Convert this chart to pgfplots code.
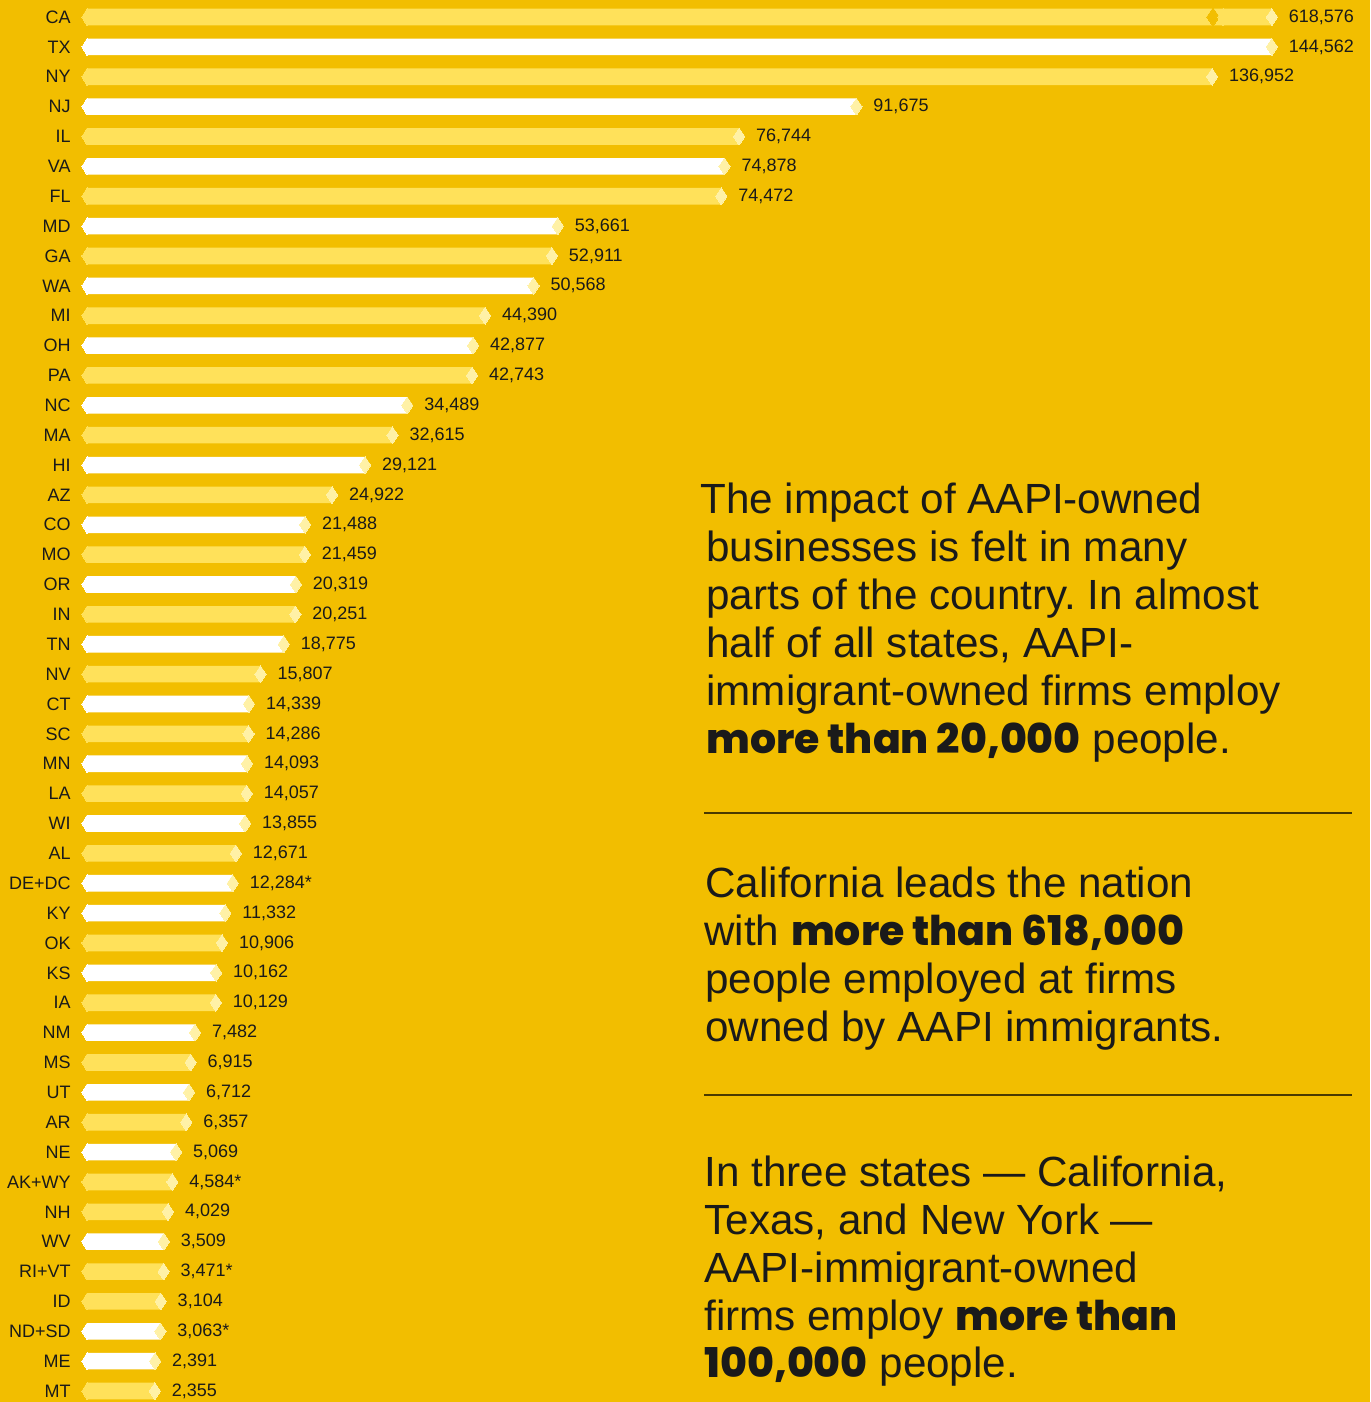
\documentclass[border=0pt]{standalone}
\usepackage{fontspec}
\setmainfont{Liberation Sans}
\newfontfamily\heavy{Poppins}[BoldFont={Poppins ExtraBold}]
\usepackage{pgfplots}
\usepackage{pgfplotstable}
\pgfplotsset{compat=1.18}
\definecolor{bg}{HTML}{F2BE00}
\definecolor{barY}{HTML}{FFE15A}
\definecolor{barW}{HTML}{FFFFFF}
\definecolor{tipc}{HTML}{FFF1A6}
\definecolor{txt}{HTML}{1A1A1A}
\definecolor{rulec}{HTML}{4A3A00}

% yellow rows: i = row index (0 = top), w = plotted length, lab = printed value
\pgfplotstableread{
i w lab
0 144562 618,576
2 136952 136,952
4 76744 76,744
6 74472 74,472
8 52911 52,911
10 44390 44,390
12 42743 42,743
14 32615 32,615
16 24922 24,922
18 21459 21,459
20 20251 20,251
22 15807 15,807
24 14286 14,286
26 14057 14,057
28 12671 12,671
31 10906 10,906
33 10129 10,129
35 6915 6,915
37 6357 6,357
39 4584 4,584*
40 4029 4,029
42 3471 3,471*
43 3104 3,104
46 2355 2,355
}\tY
% white rows
\pgfplotstableread{
i w lab
1 144562 144,562
3 91675 91,675
5 74878 74,878
7 53661 53,661
9 50568 50,568
11 42877 42,877
13 34489 34,489
15 29121 29,121
17 21488 21,488
19 20319 20,319
21 18775 18,775
23 14339 14,339
25 14093 14,093
27 13855 13,855
29 12284 12,284*
30 11332 11,332
32 10162 10,162
34 7482 7,482
36 6712 6,712
38 5069 5,069
41 3509 3,509
44 3063 3,063*
45 2391 2,391
}\tW

\newcommand{\para}{\fontsize{21.1}{24}\selectfont}
\newcommand{\hv}[1]{{\heavy\bfseries\fontsize{20.5}{24}\selectfont #1}}
\frenchspacing

\begin{document}
\begin{tikzpicture}
\useasboundingbox (0,0) rectangle (685pt,-701pt);
\fill[bg] (0,0) rectangle (685pt,-701pt);
\begin{axis}[
  at={(41pt,-701pt)}, anchor=south west,
  scale only axis, width=644pt, height=701pt,
  xmin=-637, xmax=163335,
  y dir=reverse, ymin=-0.569, ymax=46.368,
  axis line style={draw=none},
  major tick length=0pt,
  xtick=\empty,
  ytick={0,...,46},
  yticklabels={CA,TX,NY,NJ,IL,VA,FL,MD,GA,WA,MI,OH,PA,NC,MA,HI,AZ,CO,MO,OR,IN,TN,NV,CT,SC,MN,LA,WI,AL,DE+DC,KY,OK,KS,IA,NM,MS,UT,AR,NE,AK+WY,NH,WV,RI+VT,ID,ND+SD,ME,MT},
  yticklabel style={anchor=east, inner sep=0pt, xshift=-5.5pt, font=\fontsize{9}{10}\selectfont, text=txt},
  clip=false,
  dia/.style={only marks, mark=diamond*, mark size=4.15pt, color=#1, line width=0pt},
  lbl/.style={dia=tipc, mark options={xscale=0.9},
     point meta=explicit symbolic,
     nodes near coords={\pgfplotspointmeta},
     nodes near coords style={anchor=west, inner sep=0pt, xshift=8.5pt,
        font=\fontsize{9}{10}\selectfont, text=txt}},
]
% bars
\addplot[xbar, bar width=8.3pt, bar shift=0pt, fill=barY, draw=none]
  table[x expr=\thisrow{w}+6284, y=i]{\tY};
\addplot[xbar, bar width=8.3pt, bar shift=0pt, fill=barW, draw=none]
  table[x expr=\thisrow{w}+6284, y=i]{\tW};
% pointed left ends
\addplot[dia=barY, mark options={xscale=0.81}] table[x expr=0, y=i]{\tY};
\addplot[dia=barW, mark options={xscale=0.81}] table[x expr=0, y=i]{\tW};
% break in the CA bar
\addplot[dia=bg, mark size=4.6pt, mark options={xscale=0.9}] coordinates {(143348,0)};
\addplot[dia=barY, mark options={xscale=0.81}] coordinates {(144621,0)};
% tips and value labels
\addplot[lbl] table[x expr=\thisrow{w}+6284, y=i, meta=lab]{\tY};
\addplot[lbl] table[x expr=\thisrow{w}+6284, y=i, meta=lab]{\tW};
\end{axis}

% rules
\draw[rulec, line width=0.75pt] (352pt,-406.5pt) -- (676pt,-406.5pt);
\draw[rulec, line width=0.75pt] (352pt,-547.5pt) -- (676pt,-547.5pt);

% paragraph texts
\begin{scope}[every node/.style={anchor=base west, inner sep=0pt, text=txt, font=\para}]
\node at (350pt,-256.5pt) {The impact of AAPI-owned};
\node at (353pt,-280.5pt) {businesses is felt in many};
\node at (353pt,-304.5pt) {parts of the country. In almost};
\node at (353pt,-328.5pt) {half of all states, AAPI-};
\node at (353pt,-352.5pt) {immigrant-owned firms employ};
\node at (353pt,-376.5pt) {\hv{more than 20,000} people.};

\node at (352.5pt,-448.5pt) {California leads the nation};
\node at (352pt,-472.5pt) {with \hv{more than 618,000}};
\node at (352.5pt,-496.5pt) {people employed at firms};
\node at (352.5pt,-520.5pt) {owned by AAPI immigrants.};

\node at (352pt,-593pt) {In three states — California,};
\node at (352pt,-617pt) {Texas, and New York —};
\node at (352pt,-641pt) {AAPI-immigrant-owned};
\node at (352pt,-665pt) {firms employ \hv{more than}};
\node at (352pt,-688.5pt) {\hv{100,000} people.};
\end{scope}
\end{tikzpicture}
\end{document}
